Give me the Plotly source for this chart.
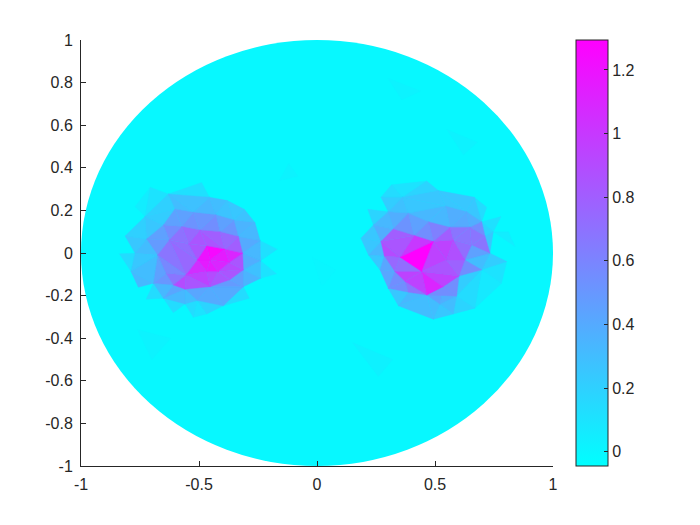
import plotly.graph_objects as go

C_MIN, C_MAX = -0.045, 1.294
BASE_VALUE = -0.01

# --- left lobe mesh ---
lx = [-0.707,-0.630,-0.489,-0.456,-0.380,-0.308,-0.263,-0.241,-0.168,-0.239,-0.171,-0.239,-0.312,-0.287,-0.397,-0.467,
      -0.507,-0.524,-0.559,-0.609,-0.651,-0.724,-0.693,-0.757,-0.788,-0.837,-0.771,-0.813,-0.729,-0.771,
      -0.602,-0.524,-0.428,-0.352,-0.333,-0.315,-0.312,-0.369,-0.453,-0.559,-0.609,-0.640,-0.675,-0.722,-0.651,-0.626,
      -0.573,-0.496,-0.411,-0.545,-0.467,-0.390,-0.507,-0.453,-0.371,-0.555,-0.467,-0.418]
ly = [0.309,0.277,0.331,0.262,0.246,0.205,0.143,0.058,0.018,-0.036,-0.098,-0.119,-0.158,-0.212,-0.248,-0.286,
      -0.223,-0.302,-0.239,-0.280,-0.212,-0.217,-0.142,-0.161,-0.087,-0.004,-0.001,0.080,0.171,0.218,
      0.207,0.191,0.179,0.155,0.077,-0.001,-0.079,-0.126,-0.158,-0.170,-0.150,-0.095,-0.009,0.066,0.132,0.061,
      0.124,0.108,0.100,0.043,0.033,0.018,-0.033,-0.033,-0.045,-0.103,-0.087,-0.087]
ltri = [(50,51,53),(50,53,52),(52,53,56),(52,56,55),(51,35,54),(51,54,53),(53,54,57),(53,57,56),
        (49,50,52),(47,48,51),(47,51,50),(49,47,50),(46,47,49),(45,46,49),(45,49,52),(45,52,55),(42,45,55),
        (48,34,51),(34,35,51),(35,36,54),(36,57,54),(36,37,57),(37,38,57),(38,56,57),(38,55,56),(39,55,38),(40,55,39),
        (41,55,40),(42,55,41),(22,41,40),(42,41,22),
        (44,46,45),(43,44,45),(43,45,42),(30,31,46),(31,47,46),(31,32,47),(32,48,47),(32,33,48),(33,34,48),(44,30,46),
        (28,30,44),(28,44,43),(1,30,28),(1,31,30),(1,3,31),(3,32,31),(3,4,32),(4,33,32),(4,5,33),(5,6,33),(6,34,33),
        (6,7,34),(7,35,34),(7,9,35),(9,36,35),(9,11,36),(11,12,36),(12,37,36),(12,38,37),(7,8,9),(9,10,11),(1,2,3),
        (0,1,28),(0,28,29),(27,28,43),(27,43,26),(26,43,42),(25,26,24),(24,26,42),(24,42,22),(23,24,22),
        (22,40,20),(20,40,39),(21,22,20),(20,39,18),(19,20,18),(18,39,16),(39,38,16),(16,38,14),(38,12,14),(12,13,14),
        (15,16,14),(17,18,16),(15,16,17)]
lval = [1.25,1.2,1.15,1.05,1.1,1.15,1.1,1.15,
        0.85,0.8,0.85,0.85,0.75,0.7,0.72,0.75,0.68,
        0.75,0.8,0.85,0.9,0.85,0.85,0.9,0.95,0.85,0.9,
        0.68,0.58,0.5,0.45,
        0.55,0.45,0.48,0.45,0.52,0.5,0.55,0.45,0.5,0.45,
        0.22,0.25,0.2,0.3,0.28,0.33,0.3,0.27,0.25,0.27,0.35,
        0.33,0.4,0.33,0.38,0.28,0.35,0.45,0.48,0.12,0.1,0.12,
        0.1,0.05,0.2,0.25,0.3,0.14,0.25,0.3,0.33,
        0.33,0.42,0.14,0.33,0.14,0.3,0.42,0.4,0.4,0.14,
        0.18,0.14,0.1]

# --- right lobe mesh ---
rx = [0.316,0.465,0.271,0.362,0.514,0.667,0.719,0.634,0.545,0.387,0.302,0.215,0.239,0.186,0.218,0.267,0.302,0.345,
      0.493,0.578,0.592,0.669,0.698,0.782,0.804,0.733,0.780,0.698,0.712,0.564,0.648,0.472,0.323,0.271,0.285,0.352,
      0.330,0.412,0.493,0.443,0.549,0.627,0.578,0.655,0.602,0.373,0.465,0.535,0.521,0.387,0.747,0.811,0.839]
ry = [0.320,0.338,0.262,0.262,0.293,0.262,0.215,0.194,0.221,0.187,0.194,0.205,0.132,0.069,-0.009,-0.079,-0.166,-0.248,
      -0.311,-0.286,-0.202,-0.259,-0.079,-0.142,-0.040,-0.001,0.171,0.147,0.080,0.121,0.121,0.147,0.113,0.054,-0.014,-0.020,
      -0.087,0.082,0.054,-0.087,-0.033,-0.033,0.061,0.038,-0.108,-0.134,-0.197,-0.158,-0.241,-0.184,0.100,0.100,0.030]
rtri = [(35,38,39),(37,38,35),(33,37,35),(32,37,33),(33,35,34),(34,35,36),(35,39,36),(36,39,45),(39,44,47),(39,47,46),
        (45,39,46),(45,46,49),(36,45,16),(15,36,16),(34,36,15),(14,34,15),(14,33,34),(13,33,14),(12,33,13),(12,32,33),
        (10,32,12),(11,10,12),(10,9,32),(9,37,32),(9,31,37),(31,38,37),(31,29,38),(29,42,38),(38,42,40),(38,40,39),
        (39,40,44),(40,41,44),(47,44,20),(47,20,46),(46,47,48),(47,20,48),(49,46,17),(46,48,18),(17,46,18),(48,19,18),
        (48,20,19),(20,21,19),(16,49,17),(16,45,49),(44,22,20),(20,22,21),(22,23,21),(41,22,44),(41,25,22),(43,25,41),
        (42,43,41),(42,41,40),(29,30,42),(30,43,42),(30,28,43),(28,25,43),(27,28,30),(7,27,30),(29,7,30),(8,7,29),
        (31,8,29),(9,8,31),(3,8,9),(3,4,8),(4,7,8),(4,5,7),(5,6,27),(5,27,7),(0,3,2),(2,3,10),(3,9,10),(0,1,3),(1,4,3),
        (28,50,25),(27,26,50),(27,50,28),(25,24,22),(22,24,23),(50,51,52)]
rval = [1.29,1.0,0.85,0.8,0.9,0.75,0.72,0.95,0.95,1.1,
        0.95,0.68,0.55,0.42,0.42,0.25,0.33,0.25,0.25,0.38,
        0.33,0.18,0.38,0.52,0.45,0.55,0.62,0.8,0.95,0.95,
        0.85,0.78,0.55,0.55,0.45,0.38,0.33,0.3,0.3,0.25,
        0.3,0.18,0.25,0.55,0.22,0.14,0.07,0.55,0.3,0.45,
        0.72,0.88,0.68,0.68,0.68,0.68,0.55,0.38,0.4,0.38,
        0.33,0.33,0.25,0.25,0.25,0.25,0.14,0.25,0.14,0.22,0.28,0.1,0.18,
        0.25,0.12,0.18,0.22,0.1,0.05]

# --- faint background facets ---
bx = [-0.12,-0.08,-0.16, 0.55,0.68,0.62, 0.15,0.32,0.26, -0.76,-0.62,-0.70, 0.30,0.44,0.36, -0.02,0.08,0.02]
by = [0.42,0.36,0.34, 0.58,0.52,0.46, -0.42,-0.50,-0.58, -0.36,-0.40,-0.50, 0.82,0.76,0.72, -0.02,-0.08,-0.16]
bval = [0.02,0.025,0.03,0.02,0.02,0.0]

TICK_X = [-1,-0.5,0,0.5,1]
TICK_X_TEXT = ["-1","-0.5","0","0.5","1"]
TICK_Y = [-1,-0.8,-0.6,-0.4,-0.2,0,0.2,0.4,0.6,0.8,1]
TICK_Y_TEXT = ["-1","-0.8","-0.6","-0.4","-0.2","0","0.2","0.4","0.6","0.8","1"]
TICK_C = [0,0.2,0.4,0.6,0.8,1,1.2]
TICK_C_TEXT = ["0","0.2","0.4","0.6","0.8","1","1.2"]

def cool(v):
    t = max(0.0, min(1.0, (v - C_MIN) / (C_MAX - C_MIN)))
    return f"rgb({round(255*t)},{round(255*(1-t))},255)"

fig = go.Figure()
def facet(xs, ys, v):
    col = cool(v)
    fig.add_trace(go.Scatter(x=xs, y=ys, mode="lines", fill="toself", fillcolor=col,
                             line=dict(color=col, width=0.4), hoverinfo="skip", showlegend=False))

for i, v in enumerate(bval):
    facet(bx[3*i:3*i+3] + [bx[3*i]], by[3*i:3*i+3] + [by[3*i]], v)
for px, py, tris, vals in ((lx, ly, ltri, lval), (rx, ry, rtri, rval)):
    order = sorted(range(len(tris)), key=lambda k: vals[k])
    for k in order:
        a, b, c = tris[k]
        facet([px[a], px[b], px[c], px[a]], [py[a], py[b], py[c], py[a]], vals[k])

fig.add_trace(go.Scatter(x=[None, None], y=[None, None], mode="markers", showlegend=False, hoverinfo="skip",
    marker=dict(color=[C_MIN, C_MAX], cmin=C_MIN, cmax=C_MAX, colorscale=[[0, "rgb(0,255,255)"], [1, "rgb(255,0,255)"]],
        showscale=True,
        colorbar=dict(x=1.0487, xanchor="left", xpad=0, y=0.5, yanchor="middle", ypad=0, len=1.0, lenmode="fraction",
            thickness=32, thicknessmode="pixels", outlinecolor="#262626", outlinewidth=1,
            ticks="inside", ticklen=4, tickcolor="#262626", tickwidth=1,
            tickvals=TICK_C, ticktext=TICK_C_TEXT,
            tickfont=dict(family="Liberation Sans", size=16, color="#262626"))))) 

fig.add_shape(type="circle", xref="x", yref="y", x0=-1, y0=-1, x1=1, y1=1, layer="below",
              fillcolor=cool(BASE_VALUE), line=dict(width=0))

axis = dict(range=[-1, 1], showgrid=False, zeroline=False, showline=True, linecolor="#262626", linewidth=1,
            ticks="inside", ticklen=5, tickcolor="#262626", tickwidth=1, ticklabelstandoff=4,
            tickfont=dict(family="Liberation Sans", size=16, color="#262626"))
fig.update_layout(width=684, height=509, margin=dict(l=73, r=139, t=32, b=51, autoexpand=False),
    paper_bgcolor="white", plot_bgcolor="white",
    xaxis=dict(axis, tickvals=TICK_X, ticktext=TICK_X_TEXT),
    yaxis=dict(axis, tickvals=TICK_Y, ticktext=TICK_Y_TEXT))
fig.write_html("out.html", config=dict(displayModeBar=False))
